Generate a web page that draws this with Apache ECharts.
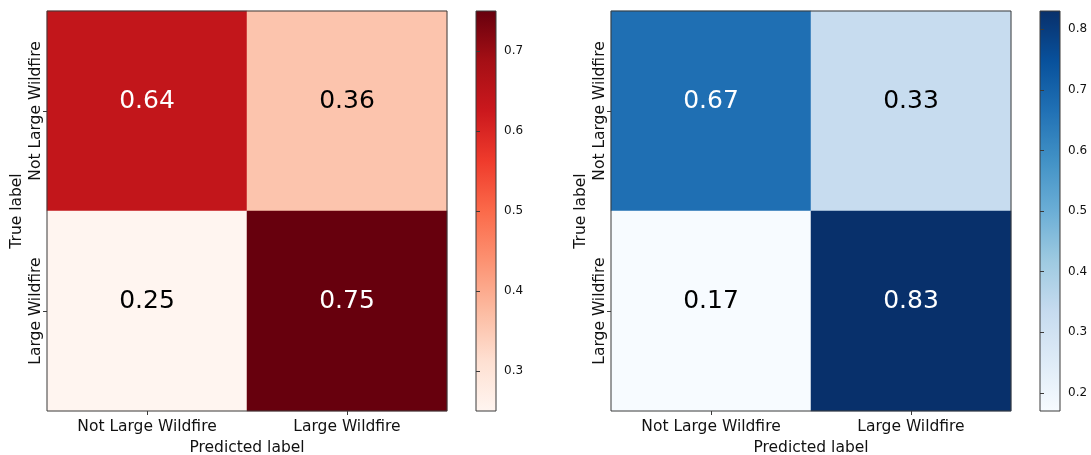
<!DOCTYPE html>
<html>
<head>
<meta charset="utf-8">
<script src="https://cdn.jsdelivr.net/npm/echarts@6/dist/echarts.min.js"></script>
<style>
  html, body { margin: 0; padding: 0; background: #ffffff; }
  #chart { width: 1091px; height: 455px; }
</style>
</head>
<body>
<div id="chart"></div>
<script>
// Class names shared by both confusion matrices
const classLabels = ['Not Large Wildfire', 'Large Wildfire'];
// Normalised confusion matrices: rows = true label, columns = predicted label
const leftMatrix = [
  [0.64, 0.36],
  [0.25, 0.75]
];
const rightMatrix = [
  [0.67, 0.33],
  [0.17, 0.83]
];
// Colorbar tick values
const leftBarTicks = [0.3, 0.4, 0.5, 0.6, 0.7];
const rightBarTicks = [0.2, 0.3, 0.4, 0.5, 0.6, 0.7, 0.8];
const xAxisTitle = 'Predicted label';
const yAxisTitle = 'True label';

// Sequential colormaps (light -> dark)
const reds = ['#fff5f0', '#fee0d2', '#fcbba1', '#fc9272', '#fb6a4a', '#ef3b2c', '#cb181d', '#a50f15', '#67000d'];
const blues = ['#f7fbff', '#deebf7', '#c6dbef', '#9ecae1', '#6baed6', '#4292c6', '#2171b5', '#08519c', '#08306b'];

const FONT = 'DejaVu Sans';
const TEXT = '#111111';
const FRAME = '#3a3a3a';
const AXIS_FS = 15.5;

function extent(m) {
  const flat = m.flat();
  return [Math.min(...flat), Math.max(...flat)];
}

function cells(m) {
  const [lo, hi] = extent(m);
  const thresh = (lo + hi) / 2;
  const out = [];
  m.forEach((row, r) => row.forEach((v, c) => {
    out.push({
      value: [c, r, v],
      label: { color: v > thresh ? '#ffffff' : '#000000' }
    });
  }));
  return out;
}

const panels = [
  { matrix: leftMatrix, ticks: leftBarTicks, cmap: reds, left: 47, barLeft: 476 },
  { matrix: rightMatrix, ticks: rightBarTicks, cmap: blues, left: 611, barLeft: 1040 }
];

const grid = [], xAxis = [], yAxis = [], series = [], visualMap = [];

panels.forEach((p, i) => {
  const [lo, hi] = extent(p.matrix);
  const gi = grid.length;
  // heatmap grid
  grid.push({ left: p.left, top: 11, width: 400, height: 400, show: true, outerBoundsMode: 'none',
    backgroundColor: 'transparent', borderColor: FRAME, borderWidth: 1, z: 10 });
  // colorbar grid
  grid.push({ left: p.barLeft, top: 11, width: 20, height: 400, show: true, outerBoundsMode: 'none',
    backgroundColor: 'transparent', borderColor: FRAME, borderWidth: 1, z: 10 });

  xAxis.push({
    type: 'category', gridIndex: gi, data: classLabels, position: 'bottom',
    axisLine: { show: false },
    axisTick: { show: true, alignWithLabel: true, length: 4, lineStyle: { color: FRAME } },
    axisLabel: { color: TEXT, fontFamily: FONT, fontSize: AXIS_FS, margin: 8 },
    name: xAxisTitle, nameLocation: 'middle', nameGap: 27,
    nameTextStyle: { color: TEXT, fontFamily: FONT, fontSize: AXIS_FS },
    splitLine: { show: false }, z: 10
  });
  yAxis.push({
    type: 'category', gridIndex: gi, data: classLabels, inverse: true,
    axisLine: { show: false },
    axisTick: { show: true, alignWithLabel: true, length: 4, lineStyle: { color: FRAME } },
    axisLabel: { color: TEXT, fontFamily: FONT, fontSize: AXIS_FS, margin: 3, rotate: 90 },
    name: yAxisTitle, nameLocation: 'middle', nameGap: 22, nameRotate: 90,
    nameTextStyle: { color: TEXT, fontFamily: FONT, fontSize: AXIS_FS },
    splitLine: { show: false }, z: 10
  });

  // colorbar axes
  xAxis.push({ type: 'value', gridIndex: gi + 1, min: 0, max: 1, show: false });
  yAxis.push({
    type: 'value', gridIndex: gi + 1, min: lo, max: hi, position: 'right',
    axisLine: { show: false },
    axisTick: { show: true, length: 4, customValues: p.ticks, lineStyle: { color: FRAME } },
    axisLabel: { show: true, customValues: p.ticks, color: TEXT, fontFamily: FONT, fontSize: 12,
      margin: 8, formatter: v => v.toFixed(1) },
    splitLine: { show: false }, z: 10
  });

  const hmIndex = series.length;
  series.push({
    type: 'heatmap', xAxisIndex: gi, yAxisIndex: gi,
    data: cells(p.matrix),
    label: { show: true, fontFamily: FONT, fontSize: 25, offset: [0, -10],
      formatter: d => d.value[2].toFixed(2) },
    itemStyle: { borderWidth: 0 },
    emphasis: { disabled: true },
    progressive: 0
  });
  visualMap.push({
    type: 'continuous', show: false, seriesIndex: hmIndex, dimension: 2,
    min: lo, max: hi, inRange: { color: p.cmap }
  });

  // colorbar gradient strip spanning the data range
  const stops = p.cmap.slice().reverse().map((c, k, a) => ({ offset: k / (a.length - 1), color: c }));
  series.push({
    type: 'custom', xAxisIndex: gi + 1, yAxisIndex: gi + 1,
    data: [[0, lo, 1, hi]],
    encode: { x: [0, 2], y: [1, 3] },
    silent: true,
    renderItem: (params, api) => {
      const a = api.coord([api.value(0), api.value(3)]);
      const b = api.coord([api.value(2), api.value(1)]);
      return {
        type: 'rect',
        shape: { x: a[0], y: a[1], width: b[0] - a[0], height: b[1] - a[1] },
        style: { fill: new echarts.graphic.LinearGradient(0, 0, 0, 1, stops) }
      };
    }
  });
});

const chart = echarts.init(document.getElementById('chart'), null, { renderer: 'canvas' });
chart.setOption({
  animation: false,
  backgroundColor: '#ffffff',
  textStyle: { fontFamily: FONT },
  grid, xAxis, yAxis, series, visualMap
});
</script>
</body>
</html>
